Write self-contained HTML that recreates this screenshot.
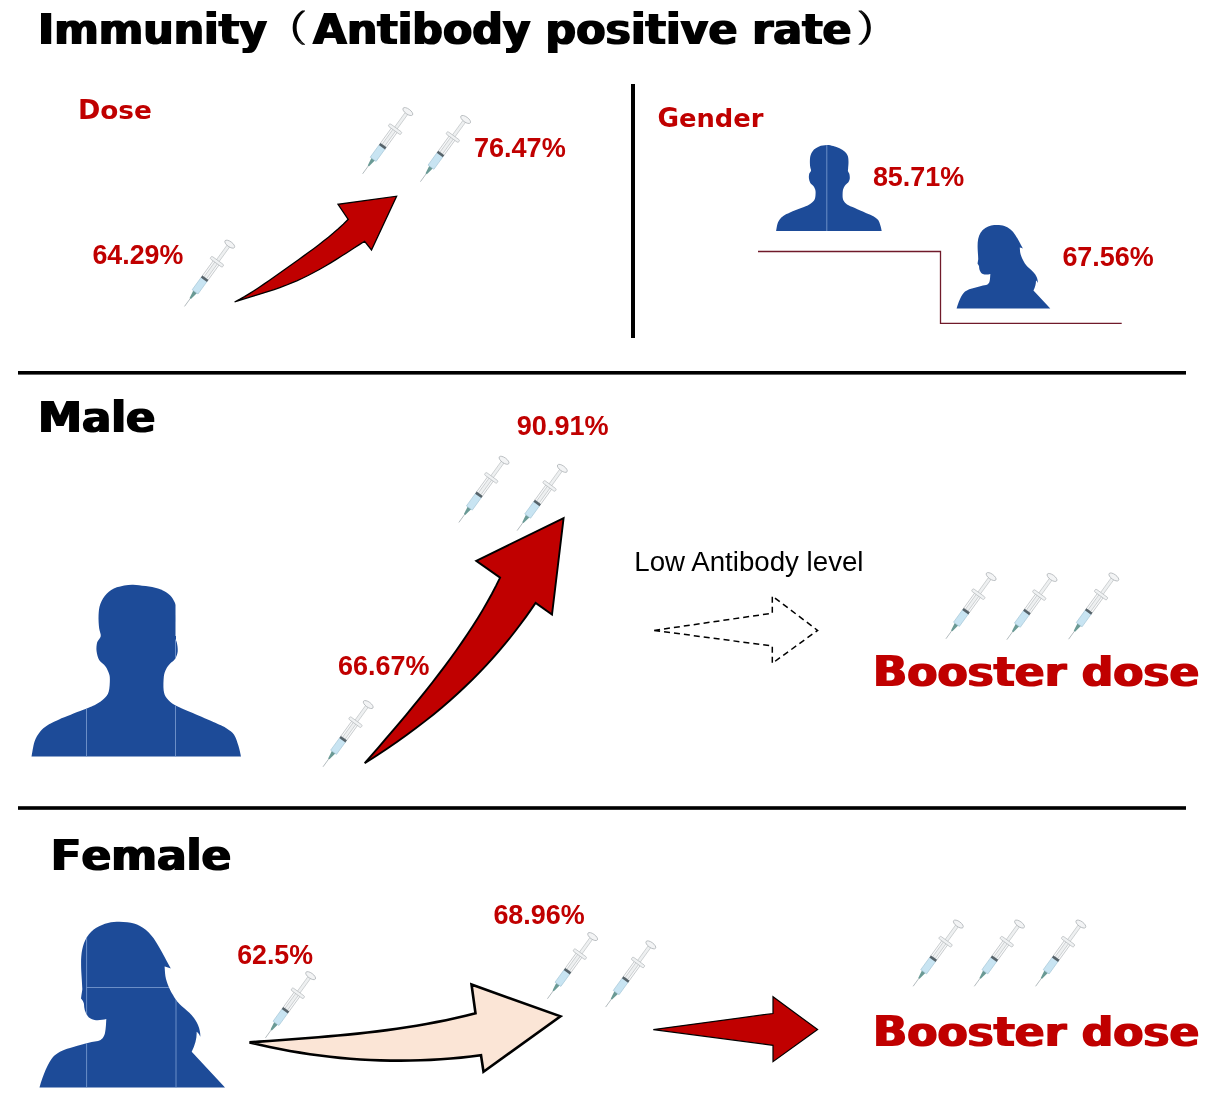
<!DOCTYPE html>
<html><head><meta charset="utf-8"><title>Immunity (Antibody positive rate)</title>
<style>html,body{margin:0;padding:0;background:#fff;width:1214px;height:1098px;overflow:hidden}svg{display:block}</style>
</head><body>
<svg width="1214" height="1098" viewBox="0 0 1214 1098">
<defs>
<symbol id="syr" overflow="visible">
 <line x1="0.4" y1="0" x2="12.5" y2="0" stroke="#a9b2b5" stroke-width="0.8"/>
 <path d="M10.2,-0.8 L18.6,-2.2 L18.6,2.2 L10.2,0.8 Z" fill="#6a9a95"/>
 <rect x="18.3" y="-3.6" width="15.4" height="7.2" fill="#c8e4f2" stroke="#a3c4d4" stroke-width="0.6"/>
 <rect x="35.4" y="-3.6" width="19.4" height="7.2" fill="#f8f9fa" stroke="#b3b8bb" stroke-width="0.65"/>
 <rect x="35.8" y="-1.6" width="39.7" height="3.2" fill="#eef0f1" stroke="#b9bdc0" stroke-width="0.6"/>
 <rect x="33.3" y="-3.8" width="2.5" height="7.6" fill="#56636a"/>
 <rect x="54" y="-7.6" width="3.1" height="15.2" rx="1.3" fill="#f0f2f3" stroke="#b3b8bb" stroke-width="0.65"/>
 <ellipse cx="77.3" cy="0" rx="2.6" ry="5.8" fill="#f3f4f5" stroke="#aeb3b6" stroke-width="0.75"/>
</symbol><path id="fp" d="M39.5,1087.5 C43,1075 48,1063 53,1057 C57,1053 62,1050 70,1048 C80,1045 90,1042 98,1041 C102,1040 104,1037 105,1033 C106,1028 106,1023 106.3,1019 C103,1020 98,1020.5 94.6,1020 C90,1019 88,1017 87,1015 C85,1012 84,1008 84,1004 C83.5,1002 82.5,1000 81,998.6 C81.5,994 82.5,990 82.3,988.7 C82,980 81,970 81.1,964 C81,955 82,945 87,937 C92,929 100,925 108,923 C112,922 116,921.8 119.2,921.8 C125,921.8 130,922.5 134,923.6 C142,926 150,932 156,942 C160,948 165,958 170.8,968.5 C168,967.5 166,967 164.6,966.6 C165,972 165,975 166,979 C168,986 170,990 173,995 C175,999 178,1003 184,1008 C190,1013 195,1018 198,1025 C200,1030 200.5,1034 200.3,1036.7 C199,1034 198,1032.5 196.6,1031.8 C197,1037 195.5,1044 191.7,1051.8 L225,1087.5 Z"/><path id="smp" d="M776.1,230.9 C776.4,229.7 776.9,225.6 777.6,223.5 C778.3,221.4 779.4,219.8 780.5,218.4 C781.6,217.1 782.4,216.4 784.0,215.4 C785.6,214.4 787.0,213.7 790.0,212.4 C793.0,211.1 798.8,208.9 801.9,207.7 C805.0,206.4 806.7,205.8 808.5,204.9 C810.3,204.0 811.5,203.2 812.6,202.1 C813.7,201.0 814.5,200.2 815.0,198.6 C815.5,197.0 815.6,193.9 815.6,192.3 C815.6,190.7 815.4,190.2 815.0,189.1 C814.6,188.0 814.2,187.0 813.4,185.9 C812.6,184.8 811.0,184.0 810.2,182.7 C809.5,181.4 809.1,179.8 808.9,178.3 C808.7,176.8 808.9,175.1 809.2,173.8 C809.6,172.6 810.8,172.0 811.0,170.8 C811.2,169.6 810.4,168.5 810.2,166.8 C810.0,165.1 809.8,162.4 809.9,160.4 C810.0,158.4 810.1,156.5 810.8,154.7 C811.5,152.9 812.6,151.0 814.0,149.6 C815.4,148.2 817.0,147.2 819.1,146.4 C821.2,145.7 824.4,145.2 826.8,145.1 C829.1,145.0 831.1,145.6 833.2,146.1 C835.3,146.6 837.6,147.4 839.5,148.3 C841.4,149.2 843.2,150.2 844.6,151.5 C846.0,152.8 847.1,154.1 847.8,155.9 C848.4,157.7 848.5,160.2 848.5,162.3 C848.5,164.4 848.2,167.2 848.1,168.7 C848.0,170.2 847.8,170.3 848.0,171.2 C848.2,172.0 849.0,172.6 849.3,173.8 C849.6,175.0 849.9,176.9 849.8,178.3 C849.7,179.7 849.1,181.1 848.5,182.1 C847.9,183.1 846.6,183.8 845.9,184.6 C845.1,185.4 844.5,186.1 844.0,187.2 C843.5,188.3 843.0,189.2 842.8,191.0 C842.6,192.8 842.5,196.0 842.7,197.8 C843.0,199.6 843.3,200.6 844.3,201.8 C845.3,203.1 846.3,204.1 848.5,205.3 C850.7,206.5 854.0,207.7 857.4,209.2 C860.8,210.7 866.1,212.9 869.0,214.2 C871.9,215.5 873.0,215.9 874.5,216.9 C876.0,217.9 877.2,218.6 878.2,220.0 C879.2,221.4 879.8,223.7 880.4,225.5 C881.0,227.3 881.5,230.0 881.7,230.9 Z"/><clipPath id="clipL"><rect x="0" y="0" width="175.5" height="1098"/><rect x="0" y="636" width="400" height="462"/></clipPath><clipPath id="cms"><use href="#smp"/></clipPath><clipPath id="cmL"><use href="#smp" transform="translate(31.5,584.5) scale(1.984,2.002) translate(-776.1,-145)"/></clipPath><clipPath id="cf"><use href="#fp"/></clipPath><filter id="dl0p25_0p15" x="-5%" y="-20%" width="110%" height="140%"><feMorphology operator="dilate" radius="0.25 0.15"/></filter><filter id="dl0p85_0p4" x="-5%" y="-20%" width="110%" height="140%"><feMorphology operator="dilate" radius="0.85 0.4"/></filter><filter id="dl0p9_0p4" x="-5%" y="-20%" width="110%" height="140%"><feMorphology operator="dilate" radius="0.9 0.4"/></filter></defs>
<rect x="631" y="84" width="4" height="254" fill="#000"/>
<rect x="18" y="371" width="1168" height="3.6" fill="#000"/>
<rect x="18" y="806.2" width="1168" height="3.6" fill="#000"/>
<path d="M758,251.5 H940.5 V323.3 H1121.7" fill="none" stroke="#701a2a" stroke-width="1.3"/>
<g clip-path="url(#clipL)"><g transform="translate(31.5,584.5) scale(1.984,2.002) translate(-776.1,-145)"><use href="#smp" fill="#1D4B98"/></g><path d="M128,585.2 C140,585 150,586 158,588.5 C166,591 171,595 174,601 L176,605 L176,640 L128,640 Z" fill="#1D4B98"/></g>
<g clip-path="url(#cmL)" stroke="#7f9fd3" stroke-width="0.8"><line x1="86.5" y1="580" x2="86.5" y2="760"/><line x1="175.5" y1="580" x2="175.5" y2="760"/></g>
<use href="#smp" fill="#1D4B98"/>
<g clip-path="url(#cms)" stroke="#7f9fd3" stroke-width="0.8"><line x1="826.8" y1="140" x2="826.8" y2="235"/></g>
<use href="#fp" fill="#1D4B98"/>
<g clip-path="url(#cf)" stroke="#7f9fd3" stroke-width="0.8"><line x1="86.6" y1="900" x2="86.6" y2="1090"/><line x1="176" y1="987.5" x2="176" y2="1090"/><line x1="86.6" y1="987.5" x2="176" y2="987.5"/></g>
<g transform="translate(956.6,225) scale(0.505,0.504) translate(-39.5,-921.8)"><use href="#fp" fill="#1D4B98"/></g>
<path d="M234.6,302.0 L239.54,299.42 L244.48,296.62 L249.42,293.62 L254.36,290.48 L259.30,287.22 L264.23,283.87 L269.17,280.46 L274.11,277.00 L279.05,273.52 L283.99,270.02 L288.93,266.51 L293.87,262.98 L298.81,259.45 L303.75,255.89 L308.69,252.29 L313.63,248.65 L318.57,244.93 L323.50,241.11 L328.44,237.17 L333.38,233.05 L338.32,228.74 L343.26,224.17 L348.20,219.30 L338,204.3 L396.6,196.2 L371.5,250 L364.6,241.3 L358.95,244.89 L353.30,248.54 L347.64,252.19 L341.99,255.82 L336.34,259.39 L330.69,262.87 L325.03,266.24 L319.38,269.47 L313.73,272.55 L308.08,275.47 L302.43,278.22 L296.77,280.81 L291.12,283.22 L285.47,285.48 L279.82,287.59 L274.17,289.56 L268.51,291.43 L262.86,293.20 L257.21,294.92 L251.56,296.62 L245.90,298.34 L240.25,300.12 L234.60,302.00 Z" fill="#C00000" stroke="#000" stroke-width="1.3" stroke-linejoin="miter"/>
<path d="M364.7,763.2 L371.74,755.13 L378.74,747.06 L385.70,738.99 L392.60,730.92 L399.44,722.85 L406.20,714.78 L412.88,706.71 L419.46,698.64 L425.94,690.57 L432.31,682.50 L438.55,674.43 L444.65,666.37 L450.61,658.30 L456.42,650.23 L462.06,642.16 L467.53,634.09 L472.82,626.02 L477.91,617.95 L482.79,609.88 L487.47,601.81 L491.92,593.74 L496.13,585.67 L500.10,577.60 L476.2,560.8 L563.6,518.2 L552,614.5 L535.6,602.9 L530.84,609.87 L525.91,616.84 L520.81,623.81 L515.53,630.78 L510.05,637.75 L504.36,644.72 L498.46,651.69 L492.32,658.66 L485.94,665.63 L479.31,672.60 L472.41,679.57 L465.23,686.53 L457.77,693.50 L450.00,700.47 L441.93,707.44 L433.53,714.41 L424.79,721.38 L415.71,728.35 L406.27,735.32 L396.46,742.29 L386.27,749.26 L375.69,756.23 L364.70,763.20 Z" fill="#C00000" stroke="#000" stroke-width="1.9" stroke-linejoin="miter"/>
<path d="M249.5,1042.4 L259.33,1041.67 L269.15,1040.95 L278.98,1040.23 L288.80,1039.51 L298.63,1038.78 L308.46,1038.02 L318.28,1037.23 L328.11,1036.40 L337.93,1035.53 L347.76,1034.59 L357.59,1033.59 L367.41,1032.52 L377.24,1031.36 L387.07,1030.10 L396.89,1028.75 L406.72,1027.28 L416.54,1025.70 L426.37,1023.99 L436.20,1022.14 L446.02,1020.15 L455.85,1018.00 L465.67,1015.68 L475.50,1013.20 L471.5,984.5 L560.5,1016.3 L483.5,1071.8 L481,1055.3 L470.93,1056.53 L460.87,1057.60 L450.80,1058.51 L440.74,1059.26 L430.67,1059.85 L420.61,1060.28 L410.54,1060.55 L400.48,1060.65 L390.41,1060.59 L380.35,1060.37 L370.28,1059.98 L360.22,1059.43 L350.15,1058.72 L340.09,1057.84 L330.02,1056.79 L319.96,1055.58 L309.89,1054.20 L299.83,1052.65 L289.76,1050.94 L279.70,1049.06 L269.63,1047.01 L259.57,1044.79 L249.50,1042.40 Z" fill="#FBE5D6" stroke="#000" stroke-width="2.6" stroke-linejoin="miter"/>
<path d="M653.3,1029.6 L773,1013.5 L773,996.7 L817.6,1029.6 L773,1061.7 L773,1045.3 Z" fill="#C00000" stroke="#000" stroke-width="1.2"/>
<path d="M654.1,630.4 L772.3,613.2 L772.3,596 L817.6,630.4 L772.3,663.3 L772.3,646 Z" fill="none" stroke="#000" stroke-width="1.5" stroke-dasharray="6 4"/>
<use href="#syr" transform="translate(184.3,306.7) rotate(-54.0)"/>
<use href="#syr" transform="translate(362.4,174.1) rotate(-54.0)"/>
<use href="#syr" transform="translate(420.2,182.0) rotate(-54.0)"/>
<use href="#syr" transform="translate(458.6,522.8) rotate(-54.0)"/>
<use href="#syr" transform="translate(516.9,530.9) rotate(-54.0)"/>
<use href="#syr" transform="translate(322.8,767.1) rotate(-54.0)"/>
<use href="#syr" transform="translate(945.7,639.1) rotate(-54.0)"/>
<use href="#syr" transform="translate(1006.6,640.0) rotate(-54.0)"/>
<use href="#syr" transform="translate(1068.4,639.5) rotate(-54.0)"/>
<use href="#syr" transform="translate(265.2,1038.2) rotate(-54.0)"/>
<use href="#syr" transform="translate(547.2,999.1) rotate(-54.0)"/>
<use href="#syr" transform="translate(605.4,1007.4) rotate(-54.0)"/>
<use href="#syr" transform="translate(912.9,986.6) rotate(-54.0)"/>
<use href="#syr" transform="translate(974.1,986.6) rotate(-54.0)"/>
<use href="#syr" transform="translate(1035.4,986.6) rotate(-54.0)"/>
<text y="43.6" font-family="&quot;DejaVu Sans&quot;, &quot;Liberation Sans&quot;, sans-serif" font-weight="bold" font-size="43.07" fill="#000" filter="url(#dl0p9_0p4)"><tspan x="38" textLength="229.0" lengthAdjust="spacingAndGlyphs"><tspan font-size="43.07">I</tspan><tspan font-size="42.14">mmunity</tspan></tspan><tspan x="269.3" y="41.6" font-family="&quot;Liberation Serif&quot;, &quot;Noto Serif CJK SC&quot;, serif" font-weight="200" font-size="37.3">（</tspan><tspan x="313.1" y="43.6" textLength="538.5" lengthAdjust="spacingAndGlyphs"><tspan font-size="43.07">A</tspan><tspan font-size="42.14">ntibody positive rate</tspan></tspan><tspan x="857" y="41.6" font-family="&quot;Liberation Serif&quot;, &quot;Noto Serif CJK SC&quot;, serif" font-weight="200" font-size="37.3">）</tspan></text>
<text x="77.9" y="118.65" font-size="25.93" font-weight="bold" fill="#C00000" filter="url(#dl0p25_0p15)" textLength="74.0" lengthAdjust="spacingAndGlyphs" font-family="&quot;DejaVu Sans&quot;, &quot;Liberation Sans&quot;, sans-serif"><tspan font-size="25.93">D</tspan><tspan font-size="25.41">ose</tspan></text>
<text x="657.4" y="127.35" font-size="26.06" font-weight="bold" fill="#C00000" filter="url(#dl0p25_0p15)" textLength="106.0" lengthAdjust="spacingAndGlyphs" font-family="&quot;DejaVu Sans&quot;, &quot;Liberation Sans&quot;, sans-serif"><tspan font-size="26.06">G</tspan><tspan font-size="25.55">ender</tspan></text>
<text x="473.9" y="156.6" font-size="27.1" font-weight="bold" fill="#C00000" font-family="&quot;Liberation Sans&quot;, Arial, sans-serif">76.47%</text>
<text x="92.4" y="264.1" font-size="26.8" font-weight="bold" fill="#C00000" font-family="&quot;Liberation Sans&quot;, Arial, sans-serif">64.29%</text>
<text x="872.9" y="186.4" font-size="26.95" font-weight="bold" fill="#C00000" font-family="&quot;Liberation Sans&quot;, Arial, sans-serif">85.71%</text>
<text x="1062.4" y="266.4" font-size="26.95" font-weight="bold" fill="#C00000" font-family="&quot;Liberation Sans&quot;, Arial, sans-serif">67.56%</text>
<text x="38" y="432.0" font-size="42.94" font-weight="bold" fill="#000" filter="url(#dl0p9_0p4)" textLength="117.5" lengthAdjust="spacingAndGlyphs" font-family="&quot;DejaVu Sans&quot;, &quot;Liberation Sans&quot;, sans-serif"><tspan font-size="42.94">M</tspan><tspan font-size="42.01">ale</tspan></text>
<text x="516.8" y="435.1" font-size="27.1" font-weight="bold" fill="#C00000" font-family="&quot;Liberation Sans&quot;, Arial, sans-serif">90.91%</text>
<text x="338.1" y="674.8" font-size="26.95" font-weight="bold" fill="#C00000" font-family="&quot;Liberation Sans&quot;, Arial, sans-serif">66.67%</text>
<text x="634.3" y="570.9" font-size="27.68" font-weight="normal" fill="#000" font-family="&quot;Liberation Sans&quot;, Arial, sans-serif">Low Antibody level</text>
<text x="872.9" y="685.8" font-size="41.98" font-weight="bold" fill="#C00000" filter="url(#dl0p85_0p4)" textLength="326.5" lengthAdjust="spacingAndGlyphs" font-family="&quot;DejaVu Sans&quot;, &quot;Liberation Sans&quot;, sans-serif"><tspan font-size="41.98">B</tspan><tspan font-size="41.07">ooster dose</tspan></text>
<text x="50.8" y="870.4" font-size="43.48" font-weight="bold" fill="#000" filter="url(#dl0p9_0p4)" textLength="180.5" lengthAdjust="spacingAndGlyphs" font-family="&quot;DejaVu Sans&quot;, &quot;Liberation Sans&quot;, sans-serif"><tspan font-size="43.48">F</tspan><tspan font-size="42.55">emale</tspan></text>
<text x="237.2" y="963.9" font-size="26.76" font-weight="bold" fill="#C00000" font-family="&quot;Liberation Sans&quot;, Arial, sans-serif">62.5%</text>
<text x="493.4" y="923.6" font-size="26.95" font-weight="bold" fill="#C00000" font-family="&quot;Liberation Sans&quot;, Arial, sans-serif">68.96%</text>
<text x="872.9" y="1045.8" font-size="41.98" font-weight="bold" fill="#C00000" filter="url(#dl0p85_0p4)" textLength="326.5" lengthAdjust="spacingAndGlyphs" font-family="&quot;DejaVu Sans&quot;, &quot;Liberation Sans&quot;, sans-serif"><tspan font-size="41.98">B</tspan><tspan font-size="41.07">ooster dose</tspan></text>
</svg>
</body></html>
